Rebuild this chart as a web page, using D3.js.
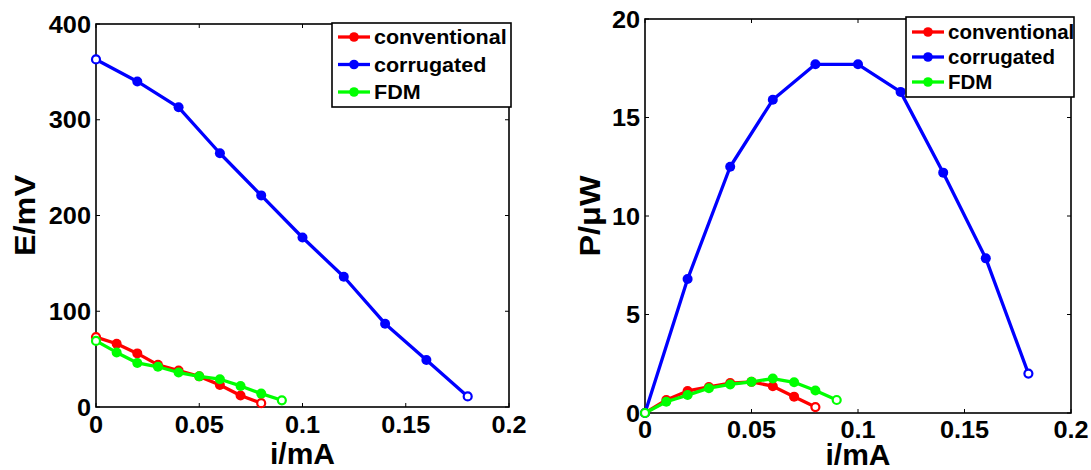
<!DOCTYPE html>
<html>
<head>
<meta charset="utf-8">
<script src="https://cdn.jsdelivr.net/npm/d3@7"></script>
<style>
  html, body { margin: 0; padding: 0; background: #fff; }
  svg { display: block; }
  text { font-family: "Liberation Sans", Arial, sans-serif; font-weight: bold; fill: #000; }
</style>
</head>
<body>
<svg id="chart" width="1091" height="470"></svg>
<script>
// Current in mA, shared by both panels
const currentConv = [0, 0.01, 0.02, 0.03, 0.04, 0.05, 0.06, 0.07, 0.08];
const currentCorr = [0, 0.02, 0.04, 0.06, 0.08, 0.10, 0.12, 0.14, 0.16, 0.18];
const currentFdm  = [0, 0.01, 0.02, 0.03, 0.04, 0.05, 0.06, 0.07, 0.08, 0.09];

// Cell voltage E (mV)
const voltageConv = [73, 66, 56, 44, 38, 32, 23, 12, 4];
const voltageCorr = [363, 340, 313, 265, 221, 177, 136, 87, 49, 11];
const voltageFdm  = [69, 57, 46, 42, 36, 32, 29, 22, 14, 7];

// Power P (µW)
const powerConv = [0, 0.66, 1.12, 1.32, 1.52, 1.58, 1.36, 0.83, 0.30];
const powerCorr = [0, 6.8, 12.5, 15.9, 17.7, 17.7, 16.3, 12.2, 7.85, 2.0];
const powerFdm  = [0, 0.57, 0.91, 1.26, 1.45, 1.58, 1.75, 1.56, 1.14, 0.66];

const seriesNames = ["conventional", "corrugated", "FDM"];
const seriesColors = ["#ff0000", "#0000ff", "#00ff00"];

const xTicks = [0, 0.05, 0.1, 0.15, 0.2];
const eTicks = [0, 100, 200, 300, 400];
const pTicks = [0, 5, 10, 15, 20];

const svg = d3.select("#chart");

// horizontally widened bold text
function wideText(sel, x, y, sx) {
  return sel.attr("transform", `translate(${x},${y}) scale(${sx},1)`);
}

function drawPanel(opt) {
  const x = d3.scaleLinear().domain([0, 0.2]).range([opt.left, opt.right]);
  const y = d3.scaleLinear().domain(opt.yDomain).range([opt.bottom, opt.top]);
  const g = svg.append("g");

  // inward ticks on all four sides
  const tl = 4;
  const ticks = g.append("g").attr("stroke", "#000").attr("stroke-width", 1);
  xTicks.forEach(t => {
    ticks.append("line").attr("x1", x(t)).attr("x2", x(t)).attr("y1", opt.bottom).attr("y2", opt.bottom - tl);
    ticks.append("line").attr("x1", x(t)).attr("x2", x(t)).attr("y1", opt.top).attr("y2", opt.top + tl);
  });
  opt.yTicks.forEach(t => {
    ticks.append("line").attr("x1", opt.left).attr("x2", opt.left + tl).attr("y1", y(t)).attr("y2", y(t));
    ticks.append("line").attr("x1", opt.right).attr("x2", opt.right - tl).attr("y1", y(t)).attr("y2", y(t));
  });

  // plot box
  g.append("rect")
    .attr("x", opt.left).attr("y", opt.top)
    .attr("width", opt.right - opt.left).attr("height", opt.bottom - opt.top)
    .attr("fill", "none").attr("stroke", "#000").attr("stroke-width", 1.6);

  // tick labels
  g.append("g").selectAll("text").data(xTicks).join("text")
    .each(function (d) { wideText(d3.select(this), x(d), opt.bottom + opt.xLabelDy, 1.1); })
    .attr("text-anchor", "middle").style("font-size", opt.tickFont + "px")
    .text(d => d3.format("~g")(d));
  g.append("g").selectAll("text").data(opt.yTicks).join("text")
    .each(function (d) { wideText(d3.select(this), opt.left - 5, y(d) + opt.tickFont * 0.38, 1.1); })
    .attr("text-anchor", "end").style("font-size", opt.tickFont + "px")
    .text(d => d);

  // axis titles
  g.append("text")
    .attr("x", (opt.left + opt.right) / 2).attr("y", opt.xTitleY)
    .attr("text-anchor", "middle").style("font-size", opt.titleFont + "px")
    .text("i/mA");
  g.append("text")
    .attr("transform", `translate(${opt.yTitleX},${(opt.top + opt.bottom) / 2}) rotate(-90) scale(1.08,1)`)
    .attr("text-anchor", "middle").style("font-size", opt.titleFont + "px")
    .text(opt.yTitle);

  // series
  const line = d3.line().x(d => x(d[0])).y(d => y(d[1]));
  opt.series.forEach((s, i) => {
    const pts = s.xs.map((v, k) => [v, s.ys[k]]);
    const isEnd = k => k === 0 || k === pts.length - 1;
    const sg = g.append("g");
    sg.append("path").datum(pts).attr("d", line)
      .attr("fill", "none").attr("stroke", seriesColors[i])
      .attr("stroke-width", 3.3).attr("stroke-linejoin", "round");
    sg.selectAll("circle").data(pts).join("circle")
      .attr("cx", d => x(d[0])).attr("cy", d => y(d[1]))
      .attr("r", (d, k) => isEnd(k) ? 4 : 5)
      .attr("fill", (d, k) => isEnd(k) ? "#fff" : seriesColors[i])
      .attr("stroke", seriesColors[i])
      .attr("stroke-width", (d, k) => isEnd(k) ? 2.2 : 0);
  });

  // legend
  const L = opt.legend;
  const lg = g.append("g");
  lg.append("rect").attr("x", L.x).attr("y", L.y).attr("width", L.w).attr("height", L.h)
    .attr("fill", "#fff").attr("stroke", "#000").attr("stroke-width", 1.6);
  seriesNames.forEach((name, i) => {
    const cy = L.y + L.row0 + i * L.step;
    lg.append("line").attr("x1", L.x + 6).attr("x2", L.x + 38).attr("y1", cy).attr("y2", cy)
      .attr("stroke", seriesColors[i]).attr("stroke-width", 3.3);
    lg.append("circle").attr("cx", L.x + 22).attr("cy", cy).attr("r", 4.8).attr("fill", seriesColors[i]);
    wideText(lg.append("text"), L.x + 42, cy + L.font * 0.36, 1.05)
      .style("font-size", L.font + "px").text(name);
  });
}

drawPanel({
  left: 96, right: 509, top: 24, bottom: 407,
  yDomain: [0, 400], yTicks: eTicks, yTitle: "E/mV",
  tickFont: 23, titleFont: 30, xLabelDy: 26, xTitleY: 464, yTitleX: 35,
  series: [
    { xs: currentConv, ys: voltageConv },
    { xs: currentCorr, ys: voltageCorr },
    { xs: currentFdm, ys: voltageFdm }
  ],
  legend: { x: 332, y: 23, w: 179, h: 84, row0: 14, step: 27.5, font: 20.5 }
});

drawPanel({
  left: 645, right: 1071, top: 19, bottom: 413,
  yDomain: [0, 20], yTicks: pTicks, yTitle: "P/\u03bcW",
  tickFont: 23, titleFont: 30, xLabelDy: 25, xTitleY: 465, yTitleX: 600,
  series: [
    { xs: currentConv, ys: powerConv },
    { xs: currentCorr, ys: powerCorr },
    { xs: currentFdm, ys: powerFdm }
  ],
  legend: { x: 906, y: 17, w: 168, h: 80, row0: 15, step: 25, font: 19.5 }
});
</script>
</body>
</html>
